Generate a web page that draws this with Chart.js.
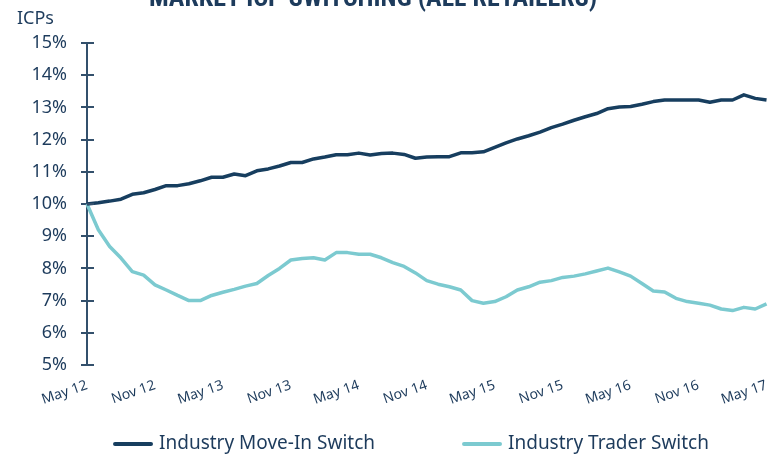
<!DOCTYPE html>
<html>
<head>
<meta charset="utf-8">
<script src="https://cdn.jsdelivr.net/npm/chart.js@4.4.1/dist/chart.umd.min.js"></script>
<style>
  html, body { margin: 0; padding: 0; background: #ffffff; }
  #wrap { width: 784px; height: 455px; position: relative; overflow: hidden; }
</style>
</head>
<body>
<div id="wrap"><canvas id="c" width="784" height="455"></canvas></div>
<script>
const chartTitle = 'MARKET ICP SWITCHING (ALL RETAILERS)';
const yAxisTitle = 'ICPs';

const months = [
  'May 12','Jun 12','Jul 12','Aug 12','Sep 12','Oct 12','Nov 12','Dec 12','Jan 13','Feb 13','Mar 13','Apr 13',
  'May 13','Jun 13','Jul 13','Aug 13','Sep 13','Oct 13','Nov 13','Dec 13','Jan 14','Feb 14','Mar 14','Apr 14',
  'May 14','Jun 14','Jul 14','Aug 14','Sep 14','Oct 14','Nov 14','Dec 14','Jan 15','Feb 15','Mar 15','Apr 15',
  'May 15','Jun 15','Jul 15','Aug 15','Sep 15','Oct 15','Nov 15','Dec 15','Jan 16','Feb 16','Mar 16','Apr 16',
  'May 16','Jun 16','Jul 16','Aug 16','Sep 16','Oct 16','Nov 16','Dec 16','Jan 17','Feb 17','Mar 17','Apr 17',
  'May 17'
];

const tickLabels = ['May 12','Nov 12','May 13','Nov 13','May 14','Nov 14','May 15','Nov 15','May 16','Nov 16','May 17'];

const moveInLabel = 'Industry Move-In Switch';
const moveIn = [
  10.00, 10.04, 10.09, 10.15, 10.30, 10.35, 10.45, 10.57, 10.57, 10.63, 10.72, 10.83,
  10.83, 10.93, 10.88, 11.03, 11.09, 11.18, 11.29, 11.29, 11.40, 11.46, 11.53, 11.53,
  11.58, 11.52, 11.57, 11.58, 11.54, 11.42, 11.46, 11.47, 11.47, 11.59, 11.59, 11.62,
  11.76, 11.90, 12.02, 12.12, 12.23, 12.37, 12.48, 12.60, 12.71, 12.81, 12.96, 13.01,
  13.03, 13.10, 13.18, 13.23, 13.23, 13.23, 13.23, 13.16, 13.23, 13.23, 13.39, 13.28,
  13.23
];

const traderLabel = 'Industry Trader Switch';
const trader = [
  10.00, 9.20, 8.68, 8.32, 7.90, 7.79, 7.49, 7.33, 7.16, 7.00, 7.00, 7.16,
  7.26, 7.35, 7.45, 7.53, 7.78, 8.00, 8.26, 8.31, 8.33, 8.26, 8.49, 8.49,
  8.44, 8.44, 8.33, 8.18, 8.06, 7.86, 7.62, 7.51, 7.43, 7.33, 7.00, 6.92,
  6.97, 7.12, 7.33, 7.43, 7.57, 7.62, 7.72, 7.76, 7.83, 7.92, 8.01, 7.89,
  7.76, 7.53, 7.30, 7.27, 7.07, 6.97, 6.92, 6.86, 6.74, 6.69, 6.79, 6.74,
  6.90
];

const yMin = 5, yMax = 15, yStep = 1;

const NAVY_TEXT = '#1d3b5c';
const AXIS = '#33506c';
const DARK = '#173e5f';
const LIGHT = '#7ccad0';
const FONT = '"Noto Sans", "Open Sans", sans-serif';

const decor = {
  id: 'decor',
  afterDraw(chart) {
    const ctx = chart.ctx;
    const ys = chart.scales.y;
    ctx.save();
    // inner half of the crossing y-axis ticks
    ctx.strokeStyle = AXIS;
    ctx.lineWidth = 2;
    ys.ticks.forEach(t => {
      const py = Math.round(ys.getPixelForValue(t.value));
      ctx.beginPath();
      ctx.moveTo(ys.right, py);
      ctx.lineTo(ys.right + 7, py);
      ctx.stroke();
    });
    // title (cut off at the top, as in the source)
    ctx.fillStyle = NAVY_TEXT;
    ctx.font = 'bold 26px "Liberation Sans Narrow", "Roboto Condensed", Roboto, sans-serif';
    ctx.textAlign = 'center';
    ctx.textBaseline = 'alphabetic';
    ctx.fillText(chartTitle, 373, 6);
    // y axis caption
    ctx.font = '18px ' + FONT;
    ctx.textAlign = 'left';
    ctx.fillText(yAxisTitle, 17, 24);
    // legend
    ctx.font = '19px ' + FONT;
    ctx.textBaseline = 'middle';
    const items = chart.data.datasets.map(d => ({ text: d.label, color: d.borderColor }));
    const sample = 40, gap = 6, itemGap = 87;
    const widths = items.map(it => sample + gap + ctx.measureText(it.text).width);
    const total = widths.reduce((a, b) => a + b, 0) + itemGap * (items.length - 1);
    let x = 411 - total / 2;
    const ly = 444;
    items.forEach((it, i) => {
      ctx.strokeStyle = it.color;
      ctx.lineWidth = 4;
      ctx.lineCap = 'round';
      ctx.beginPath();
      ctx.moveTo(x + 2, ly);
      ctx.lineTo(x + sample - 2, ly);
      ctx.stroke();
      ctx.fillStyle = NAVY_TEXT;
      ctx.fillText(it.text, x + sample + gap, ly);
      x += widths[i] + itemGap;
    });
    ctx.restore();
  }
};

new Chart(document.getElementById('c'), {
  type: 'line',
  data: {
    labels: months,
    datasets: [
      { label: moveInLabel, data: moveIn, borderColor: DARK, backgroundColor: DARK, borderWidth: 3.5, pointRadius: 0, tension: 0, borderJoinStyle: 'round' },
      { label: traderLabel, data: trader, borderColor: LIGHT, backgroundColor: LIGHT, borderWidth: 3.5, pointRadius: 0, tension: 0, borderJoinStyle: 'round' }
    ]
  },
  options: {
    responsive: false,
    animation: false,
    layout: { padding: { top: 43, left: 17, right: 15, bottom: 0 } },
    plugins: {
      legend: { display: false },
      title: { display: false },
      tooltip: { enabled: false }
    },
    scales: {
      x: {
        type: 'category',
        offset: false,
        grid: { display: false, drawTicks: false },
        border: { display: false },
        ticks: {
          autoSkip: false,
          minRotation: 19,
          maxRotation: 19,
          padding: 12,
          color: NAVY_TEXT,
          font: { family: FONT, size: 14 },
          callback(v) {
            const l = this.getLabelForValue(v);
            return tickLabels.includes(l) ? l : '';
          }
        },
        afterFit(s) { s.height = 90; }
      },
      y: {
        min: yMin,
        max: yMax,
        ticks: {
          stepSize: yStep,
          padding: 14,
          color: NAVY_TEXT,
          font: { family: FONT, size: 18 },
          callback(v) { return v + '%'; }
        },
        grid: { drawOnChartArea: false, drawTicks: true, tickLength: 6, color: AXIS, lineWidth: 2 },
        border: { display: true, color: AXIS, width: 2 },
        afterFit(s) { s.width = 70; }
      }
    }
  },
  plugins: [decor]
});
</script>
</body>
</html>
